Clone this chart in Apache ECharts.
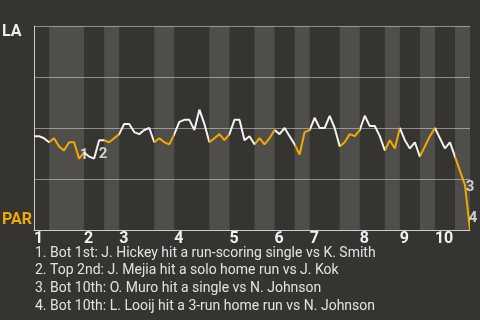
<!DOCTYPE html>
<html>
<head>
<meta charset="utf-8">
<script src="https://cdn.jsdelivr.net/npm/echarts@6/dist/echarts.min.js"></script>
<style>
html,body{margin:0;padding:0;background:#363430;}
#c{width:480px;height:320px;}
</style>
</head>
<body>
<div id="c"></div>
<script>
// LA win probability after each plate appearance (0 = PAR wins, 1 = LA wins)
const winProb = [
  0.46,0.46,0.45,0.43,0.45,0.41,0.39,0.43,0.43,0.35,
  0.38,0.36,0.35,0.44,0.44,0.43,0.45,0.47,0.52,0.52,
  0.48,0.47,0.49,0.50,0.43,0.45,0.43,0.42,0.47,0.53,
  0.54,0.54,0.49,0.59,0.52,0.43,0.45,0.47,0.44,0.47,
  0.54,0.54,0.44,0.46,0.42,0.45,0.42,0.45,0.49,0.47,
  0.50,0.46,0.42,0.37,0.48,0.49,0.55,0.50,0.50,0.56,
  0.50,0.41,0.43,0.47,0.46,0.49,0.56,0.51,0.51,0.46,
  0.39,0.44,0.40,0.50,0.44,0.40,0.43,0.36,0.41,0.46,
  0.50,0.45,0.40,0.43,0.36,0.29,0.22,0.00
];
// plate-appearance index where each half inning starts (top 1st ... bot 10th, then end)
const halfInningStarts = [0,3,10,14,17,24,28,35,39,44,48,52,55,61,65,70,73,77,80,84,87];
const inningLabels = ['1','2','3','4','5','6','7','8','9','10'];
const teamTop = 'LA';
const teamBottom = 'PAR';
const keyEventIndex = [9,13,86,87];
const keyEventLabels = ['1','2','3','4'];
const keyEventNotes = [
  '1. Bot 1st: J. Hickey hit a run-scoring single vs K. Smith',
  '2. Top 2nd: J. Mejia hit a solo home run vs J. Kok',
  '3. Bot 10th: O. Muro hit a single vs N. Johnson',
  '4. Bot 10th: L. Looij hit a 3-run home run vs N. Johnson'
];

const WHITE = '#f2f2f2';
const ORANGE = '#f2a900';
const labelOffsets = [[5,-3],[4,14],[5,2],[3,-12]];

const lineData = winProb.map((v,i)=>[i,v]);
const inningStartIdx = halfInningStarts.filter((_,k)=>k%2===0 && k<halfInningStarts.length-1);
const pieces = [];
const bands = [];
for (let k=0;k<halfInningStarts.length-1;k++){
  const a = halfInningStarts[k], b = halfInningStarts[k+1];
  pieces.push(k===halfInningStarts.length-2 ? {gte:a, lte:b, color: k%2?ORANGE:WHITE} : {gte:a, lt:b, color: k%2?ORANGE:WHITE});
  if (k%2===1) bands.push([{xAxis:a},{xAxis:b}]);
}

const chart = echarts.init(document.getElementById('c'), null, {renderer:'canvas'});
const graphics = [
  {type:'text', x:2, y:32, style:{text:teamTop, fill:'#eeeeee', font:'bold 16px Roboto', verticalAlign:'middle'}},
  {type:'text', x:2, y:220, style:{text:teamBottom, fill:ORANGE, font:'bold 16px Roboto', verticalAlign:'middle'}}
];
keyEventNotes.forEach((t,k)=>{
  graphics.push({type:'text', x:35, y:253+k*17.8, style:{text:t, fill:'#e2e2e2', font:'14px Roboto', verticalAlign:'middle'}});
});

chart.setOption({
  backgroundColor:'#363430',
  animation:false,
  grid:{left:34, right:10, top:26, bottom:90},
  xAxis:{
    type:'value', min:0, max:87,
    axisLine:{show:true, lineStyle:{color:'#cccccc', width:1}},
    axisTick:{show:false},
    splitLine:{show:false},
    axisLabel:{
      customValues: inningStartIdx,
      formatter:(v)=>inningLabels[inningStartIdx.indexOf(v)] || '',
      color:'#f0f0f0', fontFamily:'Roboto', fontWeight:'bold', fontSize:16,
      align:'left', margin:1
    }
  },
  yAxis:{
    type:'value', min:0, max:1, interval:0.25,
    axisLine:{show:true, lineStyle:{color:'#cccccc', width:1}},
    axisTick:{show:false},
    axisLabel:{show:false},
    splitLine:{show:true, lineStyle:{color:'#8c8c8a', width:1}}
  },
  visualMap:{type:'piecewise', show:false, dimension:0, seriesIndex:0, pieces:pieces},
  graphic: graphics,
  series:[
    {
      type:'line', data:lineData, showSymbol:false, symbol:'none',
      lineStyle:{width:2},
      markArea:{silent:true, itemStyle:{color:'rgba(255,255,255,0.13)'}, data:bands}
    },
    {
      type:'scatter', symbolSize:0, z:5,
      data: keyEventIndex.map((i,k)=>({value:[i, winProb[i]], name:keyEventLabels[k], label:{offset:labelOffsets[k]}})),
      label:{show:true, position:'inside', formatter:(p)=>p.name, color:'#f4f4f4', fontFamily:'Roboto', fontWeight:'bold', fontSize:15}
    }
  ]
});
</script>
</body>
</html>
